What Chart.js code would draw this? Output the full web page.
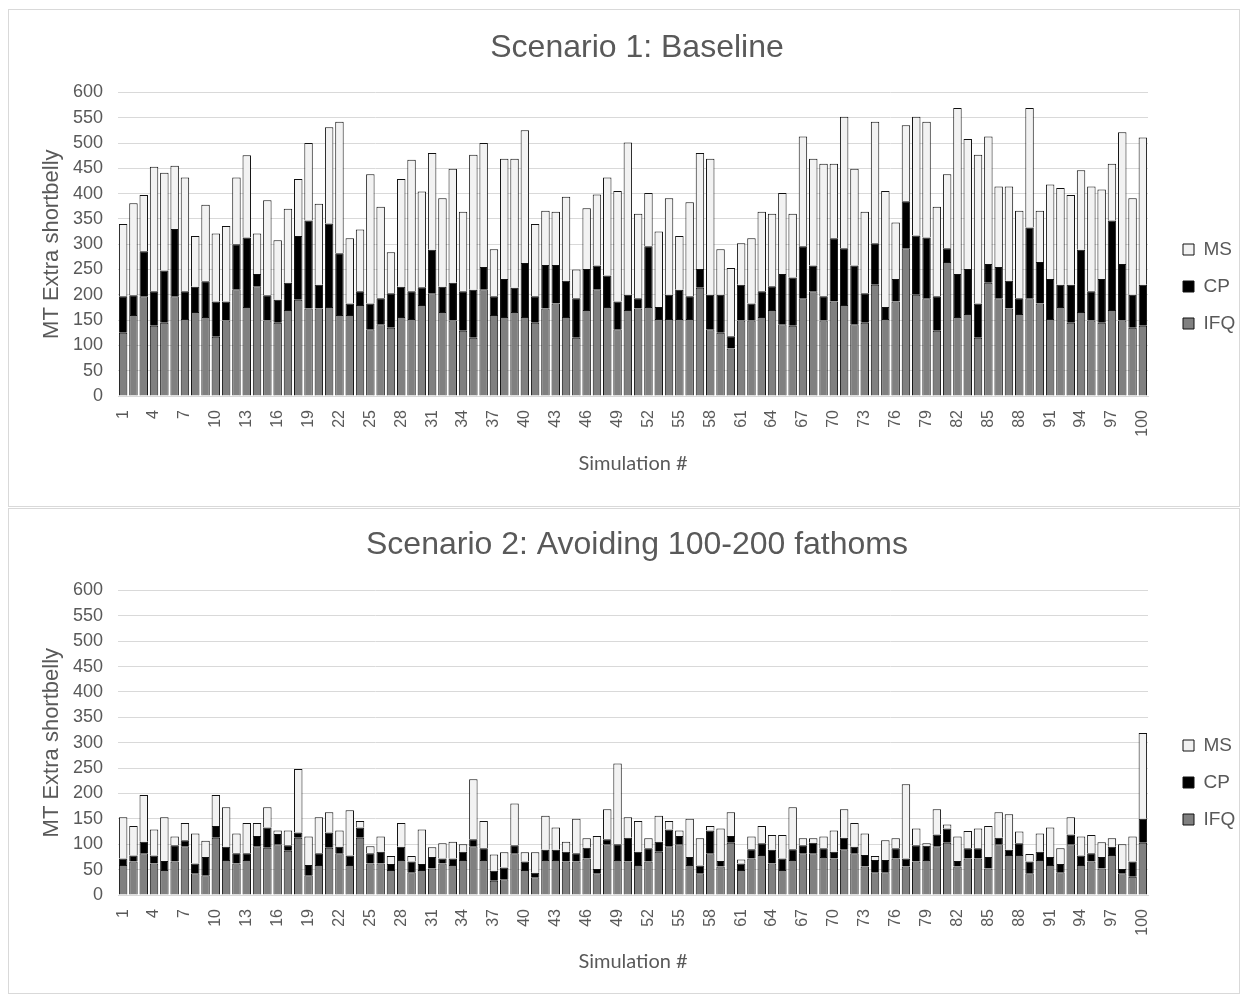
<!DOCTYPE html>
<html>
<head>
<meta charset="utf-8">
<script src="https://cdn.jsdelivr.net/npm/chart.js@4.4.0/dist/chart.umd.min.js"></script>
<style>
  body { margin: 0; background: #fff; }
  .panel { position: absolute; left: 8px; width: 1232px; border: 1px solid #d9d9d9; box-sizing: border-box; background: #fff; }
</style>
</head>
<body>
<div class="panel" style="top:9px;height:498px"><canvas id="chart1" width="1230" height="496"></canvas></div>
<div class="panel" style="top:508px;height:486px"><canvas id="chart2" width="1230" height="484"></canvas></div>
<script>
const simulations = Array.from({ length: 100 }, (_, i) => String(i + 1));
const yTicks = [0, 50, 100, 150, 200, 250, 300, 350, 400, 450, 500, 550, 600];

// Scenario 1: Baseline
const baseIFQ = [125,160,197,139,145,197,152,166,156,117,149,211,176,217,149,145,170,190,173,173,
  176,160,160,180,132,142,135,156,152,180,203,166,149,129,115,211,160,156,166,156,
  145,173,183,156,115,170,211,176,132,170,173,176,152,152,152,152,214,132,125,94,
  149,149,156,170,142,139,193,207,149,187,180,142,145,220,152,187,292,200,193,129,
  265,156,162,115,224,193,173,162,193,183,152,176,145,166,149,145,170,149,135,139];
const baseCP = [72,39,89,68,103,133,55,50,71,70,38,89,137,24,50,45,54,126,174,47,
  165,122,23,27,51,51,68,60,55,35,86,50,75,78,95,44,37,75,48,107,
  52,86,76,72,78,81,47,62,55,30,20,120,24,48,58,45,37,68,75,24,
  71,34,51,47,99,95,103,51,48,125,112,116,58,82,24,44,93,117,120,68,
  27,85,89,68,37,62,55,31,140,82,79,44,75,123,58,86,177,112,65,81];
const baseMS = [143,182,111,246,193,125,225,100,151,134,149,132,163,80,188,118,146,113,153,160,
  190,260,129,122,255,181,81,213,260,189,191,175,225,157,267,245,93,238,255,262,
  143,107,105,166,57,120,140,194,218,301,167,105,149,191,106,186,229,269,90,135,
  82,129,157,143,160,126,217,211,262,147,260,191,161,240,229,112,150,235,229,177,
  146,328,257,294,252,159,186,173,236,101,187,191,177,157,207,177,112,260,191,291];

// Scenario 2: Avoiding 100-200 fathoms
const avoidIFQ = [59,66,82,62,49,66,96,43,39,113,69,62,69,96,93,100,87,113,39,59,
  93,82,59,113,62,62,49,69,45,49,52,62,59,69,96,69,28,31,82,49,
  35,69,69,66,66,72,43,100,69,66,59,66,85,96,100,59,43,82,56,103,
  49,72,79,62,49,69,82,82,75,72,90,82,56,45,45,72,56,66,69,96,
  103,56,72,72,52,100,79,79,43,69,59,45,100,59,66,52,79,43,36,103];
const avoidCP = [13,12,23,16,18,32,12,19,36,23,26,20,13,20,40,20,11,10,20,23,
  30,13,19,20,20,23,12,26,21,12,23,10,13,16,14,23,20,23,16,17,
  9,20,20,19,16,21,8,10,31,47,26,26,20,33,16,16,15,45,11,13,
  13,18,23,27,23,21,16,21,17,13,23,13,23,24,24,20,16,32,28,23,
  28,11,20,20,23,13,10,23,23,16,16,16,19,19,16,23,16,8,30,47];
const avoidMS = [81,58,92,51,86,17,34,59,32,61,78,39,60,26,40,7,29,125,56,71,
  40,32,89,13,14,30,16,47,11,68,19,30,33,15,118,54,32,30,82,18,
  40,67,44,20,68,19,65,59,159,40,61,20,51,17,11,75,54,9,64,47,
  8,25,34,29,46,83,14,9,23,42,56,47,42,8,39,20,146,33,5,50,
  8,48,34,39,61,50,70,23,15,36,58,31,34,37,36,29,17,49,49,169];

const textColor = '#595959';
const gridColor = '#d9d9d9';

// legend sits to the right of the plot, Excel style: fixed width and position
const legendPlace = {
  id: 'legendPlace',
  beforeLayout(chart, args, opts) {
    const lg = chart.legend;
    if (lg && !lg._placed) {
      const fit = lg.fit;
      lg.fit = function () { fit.call(this); this.width = opts.width; };
      lg._placed = true;
    }
  },
  afterLayout(chart, args, opts) {
    const lg = chart.legend;
    const pad = chart.options.plugins.legend.labels.padding;
    lg.left = chart.chartArea.right + opts.gap - pad;
    lg.top = opts.top;
    lg.bottom = opts.top + 200;
  }
};

function makeChart(canvasId, titleText, ifq, cp, ms, lay) {
  const ctx = document.getElementById(canvasId).getContext('2d');
  return new Chart(ctx, {
    type: 'bar',
    data: {
      labels: simulations,
      datasets: [
        { label: 'IFQ', data: ifq, backgroundColor: '#808080', borderColor: '#111111', borderWidth: 1 },
        { label: 'CP', data: cp, backgroundColor: '#000000', borderColor: '#111111', borderWidth: 1 },
        { label: 'MS', data: ms, backgroundColor: '#f2f2f2', borderColor: '#111111', borderWidth: 1 }
      ]
    },
    plugins: [legendPlace],
    options: {
      responsive: false,
      animation: false,
      layout: { padding: { left: 26, right: 0, top: 8, bottom: lay.bottom } },
      datasets: { bar: { barPercentage: 0.82, categoryPercentage: 1 } },
      plugins: {
        title: {
          display: true,
          text: titleText,
          color: textColor,
          font: { family: 'Liberation Sans', size: 32, weight: 'normal' },
          padding: { top: lay.titleTop, bottom: lay.titleBottom }
        },
        legend: {
          position: 'right',
          align: 'start',
          reverse: true,
          labels: {
            color: textColor,
            boxWidth: 11,
            boxHeight: 11,
            padding: 18,
            font: { family: 'Liberation Sans', size: 19 }
          }
        },
        legendPlace: { width: 91, gap: 35, top: lay.legendTop },
        tooltip: { enabled: false }
      },
      scales: {
        x: {
          stacked: true,
          grid: { display: false },
          border: { color: gridColor },
          afterFit: axis => { axis.height = lay.xHeight; },
          ticks: {
            autoSkip: false,
            minRotation: 90,
            maxRotation: 90,
            padding: 6,
            color: textColor,
            font: { family: 'Liberation Sans', size: 16 },
            callback: function (value, index) {
              return index % 3 === 0 ? this.getLabelForValue(value) : '';
            }
          },
          title: {
            display: true,
            text: 'Simulation #',
            color: textColor,
            font: { family: 'Lato', size: 20 },
            padding: { top: 4, bottom: 4 }
          }
        },
        y: {
          stacked: true,
          min: 0,
          max: 600,
          grid: { color: gridColor, drawTicks: false },
          border: { display: false },
          afterFit: axis => { axis.width = 83; },
          afterBuildTicks: axis => { axis.ticks = yTicks.map(v => ({ value: v })); },
          ticks: {
            autoSkip: false,
            color: textColor,
            padding: 15,
            font: { family: 'Liberation Sans', size: 18 }
          },
          title: {
            display: true,
            text: 'MT Extra shortbelly',
            color: textColor,
            font: { family: 'Liberation Sans', size: 22 },
            padding: { top: 4, bottom: 4 }
          }
        }
      }
    }
  });
}

makeChart('chart1', 'Scenario 1: Baseline', baseIFQ, baseCP, baseMS,
  { bottom: 26, xHeight: 84, titleTop: 11, titleBottom: 25, legendTop: 212 });
makeChart('chart2', 'Scenario 2: Avoiding 100-200 fathoms', avoidIFQ, avoidCP, avoidMS,
  { bottom: 15, xHeight: 83, titleTop: 9, titleBottom: 26, legendTop: 209 });
</script>
</body>
</html>
